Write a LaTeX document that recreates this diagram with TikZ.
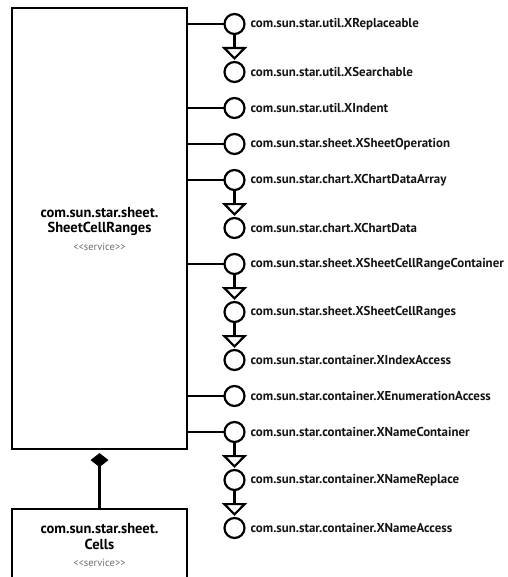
\documentclass[tikz,border=0pt]{standalone}
\usepackage{fontspec}
\setmainfont{PT Sans}
\usepackage{tikz}
\usetikzlibrary{arrows.meta,positioning}
\definecolor{stereogray}{RGB}{110,110,110}
\definecolor{inkblack}{RGB}{20,20,20}

\begin{document}
\begin{tikzpicture}[
    x=1pt, y=-1pt,
    line width=2.2pt,
    service/.style={draw, minimum width=175pt, align=center, inner sep=0pt, font=\bfseries\fontsize{14.5}{15.5}\selectfont},
    iface/.style={draw, circle, minimum size=20pt, inner sep=0pt, outer sep=0pt, fill=white},
    ilabel/.style={right=5pt of #1, inner sep=0pt, font=\bfseries\fontsize{12.9}{14}\selectfont, text=inkblack},
    chain/.style={below=28pt of #1},
    sibling/.style={below=16pt of #1},
    inherit/.style={-{Triangle[open, length=13pt, width=25pt, fill=white]}, shorten >=2pt},
    compose/.style={-{Diamond[length=14pt, width=18pt]}, shorten >=3pt}
  ]
    \useasboundingbox (0,0) rectangle (507,577);
    % services
    \node[service, minimum height=441pt] (ranges) at (99.5,228.5)
      {com.sun.star.sheet.\\SheetCellRanges\\[2pt]{\mdseries\fontsize{10.5}{11}\selectfont\color{stereogray}<{}<service>{}>}};
    \node[service, minimum height=72pt] (cells) at (99.5,545)
      {com.sun.star.sheet.\\Cells\\[2pt]{\mdseries\fontsize{10.5}{11}\selectfont\color{stereogray}<{}<service>{}>}};
    % interfaces
    \node[iface] (replaceable) at (234.5,24) {};
    \node[iface, chain=replaceable] (searchable) {};
    \node[iface, sibling=searchable] (indent) {};
    \node[iface, sibling=indent] (operation) {};
    \node[iface, sibling=operation] (dataarray) {};
    \node[iface, chain=dataarray] (chartdata) {};
    \node[iface, sibling=chartdata] (rangecontainer) {};
    \node[iface, chain=rangecontainer] (cellranges) {};
    \node[iface, chain=cellranges] (indexaccess) {};
    \node[iface, sibling=indexaccess] (enumaccess) {};
    \node[iface, sibling=enumaccess] (namecontainer) {};
    \node[iface, chain=namecontainer] (namereplace) {};
    \node[iface, chain=namereplace] (nameaccess) {};
    % interface names
    \node[ilabel=replaceable] (replaceable-txt) {com.sun.star.util.XReplaceable};
    \node[ilabel=searchable] (searchable-txt) {com.sun.star.util.XSearchable};
    \node[ilabel=indent] (indent-txt) {com.sun.star.util.XIndent};
    \node[ilabel=operation] (operation-txt) {com.sun.star.sheet.XSheetOperation};
    \node[ilabel=dataarray] (dataarray-txt) {com.sun.star.chart.XChartDataArray};
    \node[ilabel=chartdata] (chartdata-txt) {com.sun.star.chart.XChartData};
    \node[ilabel=rangecontainer] (rangecontainer-txt) {com.sun.star.sheet.XSheetCellRangeContainer};
    \node[ilabel=cellranges] (cellranges-txt) {com.sun.star.sheet.XSheetCellRanges};
    \node[ilabel=indexaccess] (indexaccess-txt) {com.sun.star.container.XIndexAccess};
    \node[ilabel=enumaccess] (enumaccess-txt) {com.sun.star.container.XEnumerationAccess};
    \node[ilabel=namecontainer] (namecontainer-txt) {com.sun.star.container.XNameContainer};
    \node[ilabel=namereplace] (namereplace-txt) {com.sun.star.container.XNameReplace};
    \node[ilabel=nameaccess] (nameaccess-txt) {com.sun.star.container.XNameAccess};
    % lollipops
    \draw (ranges.east |- replaceable) -- (replaceable);
    \draw (ranges.east |- indent) -- (indent);
    \draw (ranges.east |- operation) -- (operation);
    \draw (ranges.east |- dataarray) -- (dataarray);
    \draw (ranges.east |- rangecontainer) -- (rangecontainer);
    \draw (ranges.east |- enumaccess) -- (enumaccess);
    \draw (ranges.east |- namecontainer) -- (namecontainer);
    % inheritance
    \draw[inherit] (replaceable) -- (searchable);
    \draw[inherit] (dataarray) -- (chartdata);
    \draw[inherit] (rangecontainer) -- (cellranges);
    \draw[inherit] (cellranges) -- (indexaccess);
    \draw[inherit] (namecontainer) -- (namereplace);
    \draw[inherit] (namereplace) -- (nameaccess);
    % composition
    \draw[compose] (cells) -- (ranges);
  \end{tikzpicture}
\end{document}
